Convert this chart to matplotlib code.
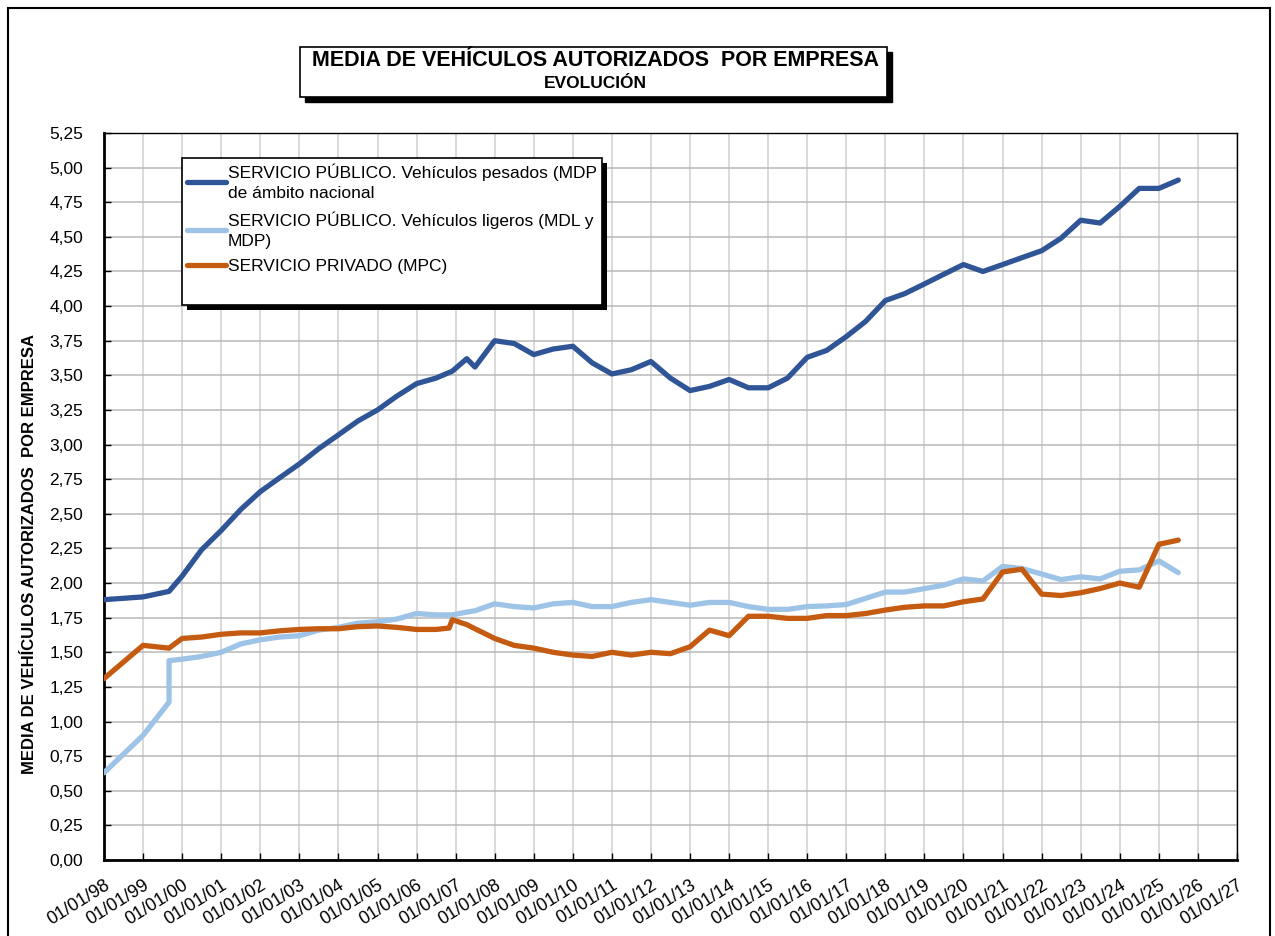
import datetime as dt
import matplotlib
matplotlib.use('Agg')
import matplotlib.pyplot as plt
import matplotlib.dates as mdates
from matplotlib.patches import Rectangle
from matplotlib.lines import Line2D
from matplotlib.transforms import IdentityTransform
from matplotlib.ticker import MultipleLocator, FuncFormatter

plt.rcParams['font.family'] = ['Liberation Sans', 'DejaVu Sans']

# fechas de los datos (aaaa-mm-dd)
fechas = [
    '1998-01-01', '1999-01-01', '1999-09-01', '1999-09-01', '2000-01-01', '2000-07-01',
    '2001-01-01', '2001-07-01', '2002-01-01', '2002-07-01', '2003-01-01', '2003-07-01',
    '2004-01-01', '2004-07-01', '2005-01-01', '2005-07-01', '2006-01-01', '2006-07-01',
    '2006-11-01', '2006-12-01', '2007-04-15', '2007-07-01', '2008-01-01', '2008-07-01',
    '2009-01-01', '2009-07-01', '2010-01-01', '2010-07-01', '2011-01-01', '2011-07-01',
    '2012-01-01', '2012-07-01', '2013-01-01', '2013-07-01', '2014-01-01', '2014-07-01',
    '2015-01-01', '2015-07-01', '2016-01-01', '2016-07-01', '2017-01-01', '2017-07-01',
    '2018-01-01', '2018-07-01', '2019-01-01', '2019-07-01', '2020-01-01', '2020-07-01',
    '2021-01-01', '2021-07-01', '2022-01-01', '2022-07-01', '2023-01-01', '2023-07-01',
    '2024-01-01', '2024-07-01', '2025-01-01', '2025-07-01',
]

pesados = [
    1.88, 1.90, 1.94, 1.94, 2.05, 2.24,
    2.38, 2.53, 2.66, 2.76, 2.86, 2.97,
    3.07, 3.17, 3.25, 3.35, 3.44, 3.48,
    3.52, 3.53, 3.62, 3.56, 3.75, 3.73,
    3.65, 3.69, 3.71, 3.59, 3.51, 3.54,
    3.60, 3.48, 3.39, 3.42, 3.47, 3.41,
    3.41, 3.48, 3.63, 3.68, 3.78, 3.89,
    4.04, 4.09, 4.16, 4.23, 4.30, 4.25,
    4.30, 4.35, 4.40, 4.49, 4.62, 4.60,
    4.72, 4.85, 4.85, 4.91,
]

ligeros = [
    0.63, 0.90, 1.14, 1.44, 1.45, 1.47,
    1.50, 1.56, 1.59, 1.61, 1.62, 1.66,
    1.68, 1.71, 1.72, 1.74, 1.78, 1.77,
    1.77, 1.77, 1.79, 1.80, 1.85, 1.83,
    1.82, 1.85, 1.86, 1.83, 1.83, 1.86,
    1.88, 1.86, 1.84, 1.86, 1.86, 1.83,
    1.81, 1.81, 1.83, 1.835, 1.845, 1.89,
    1.935, 1.935, 1.96, 1.985, 2.03, 2.015,
    2.12, 2.105, 2.065, 2.025, 2.045, 2.03,
    2.085, 2.095, 2.16, 2.075,
]

privado = [
    1.31, 1.55, 1.53, 1.53, 1.60, 1.61,
    1.63, 1.64, 1.64, 1.655, 1.665, 1.67,
    1.67, 1.685, 1.69, 1.68, 1.665, 1.665,
    1.675, 1.735, 1.70, 1.67, 1.60, 1.55,
    1.53, 1.50, 1.48, 1.47, 1.50, 1.48,
    1.50, 1.49, 1.54, 1.66, 1.62, 1.76,
    1.76, 1.745, 1.745, 1.765, 1.765, 1.78,
    1.805, 1.825, 1.835, 1.835, 1.865, 1.885,
    2.08, 2.10, 1.92, 1.91, 1.93, 1.96,
    2.00, 1.97, 2.28, 2.31,
]

etiquetas = [
    'SERVICIO PÚBLICO. Vehículos pesados (MDP\nde ámbito nacional',
    'SERVICIO PÚBLICO. Vehículos ligeros (MDL y\nMDP)',
    'SERVICIO PRIVADO (MPC)',
]
colores = ['#2F5597', '#9DC3E6', '#C55A11']

x = [dt.datetime.strptime(f, '%Y-%m-%d') for f in fechas]

fig = plt.figure(figsize=(12.75, 9.36), dpi=100)
ax = fig.add_axes([104 / 1275, 1 - 860 / 936, (1237 - 104) / 1275, (860 - 133) / 936])

lineas = []
for serie, col in zip([pesados, ligeros, privado], colores):
    l, = ax.plot(x, serie, color=col, lw=3.8, solid_capstyle='round', zorder=3)
    lineas.append(l)

ax.set_xlim(dt.datetime(1998, 1, 1), dt.datetime(2027, 1, 1))
ax.set_ylim(0, 5.25)
ax.yaxis.set_major_locator(MultipleLocator(0.25))
ax.yaxis.set_major_formatter(FuncFormatter(lambda v, p: f'{v:.2f}'.replace('.', ',')))
ax.xaxis.set_major_locator(mdates.YearLocator())
ax.xaxis.set_major_formatter(mdates.DateFormatter('%d/%m/%y'))

ax.grid(axis='y', color='#b8b8b8', lw=1.1)
ax.grid(axis='x', color='#d0d0d0', lw=1.1)
ax.set_axisbelow(True)

for s in ax.spines.values():
    s.set_color('black')
    s.set_linewidth(1.0)
ax.spines['left'].set_linewidth(2.0)
ax.spines['bottom'].set_linewidth(2.0)

ax.tick_params(axis='both', direction='in', length=5, width=1, color='black')
ax.tick_params(axis='y', labelsize=12.5, pad=15)
ax.tick_params(axis='x', labelsize=13, pad=12)
for t in ax.get_xticklabels():
    t.set_rotation(32)
    t.set_ha('right')
    t.set_rotation_mode('anchor')

fig.text(30 / 1275, 1 - 554 / 936, 'MEDIA DE VEHÍCULOS AUTORIZADOS  POR EMPRESA',
         rotation=90, ha='center', va='center', fontsize=12, fontweight='bold')

# leyenda (fila vacía al final para dejar el hueco inferior del original)
hueco = Line2D([], [], color='none')
leg = ax.legend(lineas + [hueco], etiquetas + [' '], loc='upper left',
                bbox_to_anchor=((181.7 - 104) / 1133, (860 - 158.3) / 727),
                borderaxespad=0, fontsize=12.5, frameon=True, fancybox=False,
                edgecolor='black', framealpha=1, handlelength=2.25, handletextpad=0.12,
                borderpad=0.3, labelspacing=0.6)
leg.get_frame().set_linewidth(1.2)
leg.set_zorder(6)
for t in leg.get_texts():
    t.set_linespacing(1.4)

fig.canvas.draw()
bb = leg.get_window_extent()
ax.add_patch(Rectangle((bb.x0 + 5, bb.y0 - 5), bb.width, bb.height, transform=IdentityTransform(),
                       facecolor='black', edgecolor='none', zorder=5.5, clip_on=False))

# caja del título con sombra
fig.patches.append(Rectangle((305 / 1275, 1 - 102 / 936), 587 / 1275, 50 / 936,
                             transform=fig.transFigure, facecolor='black', edgecolor='black'))
fig.patches.append(Rectangle((300 / 1275, 1 - 97 / 936), 587 / 1275, 50 / 936,
                             transform=fig.transFigure, facecolor='white', edgecolor='black', lw=1.2))
fig.text(595 / 1275, 1 - 61 / 936, 'MEDIA DE VEHÍCULOS AUTORIZADOS  POR EMPRESA',
         ha='center', va='center', fontsize=15.5, fontweight='bold')
fig.text(595 / 1275, 1 - 84 / 936, 'EVOLUCIÓN', ha='center', va='center',
         fontsize=12.5, fontweight='bold')

# marco exterior
fig.patches.append(Rectangle((8 / 1275, -0.05), 1262 / 1275, 1.05 - 8 / 936,
                             transform=fig.transFigure, facecolor='none', edgecolor='black', lw=1.5))

fig.savefig('out.png', dpi=100)
